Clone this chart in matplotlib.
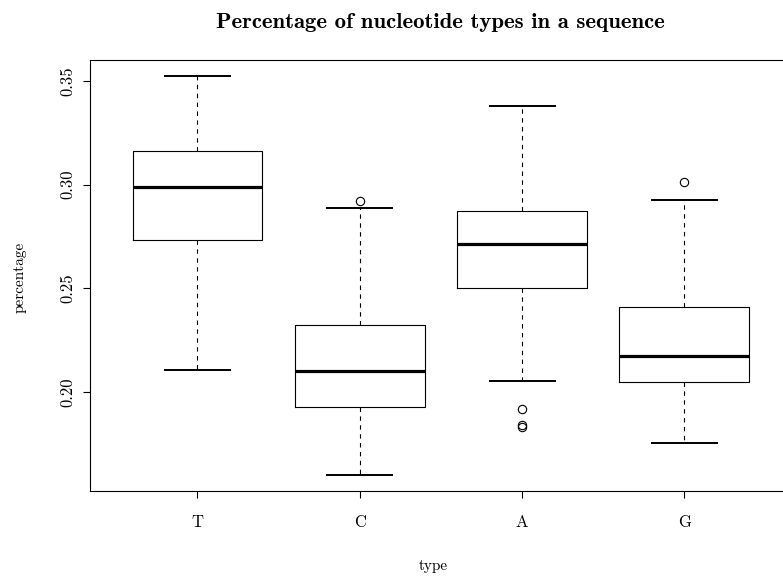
import matplotlib
matplotlib.use("Agg")
import matplotlib.pyplot as plt

# Nucleotide types and box statistics
types = ["T", "C", "A", "G"]
whisker_low = [0.2106, 0.1600, 0.2053, 0.1756]
q1 = [0.2731, 0.1928, 0.2501, 0.2051]
medians = [0.2987, 0.2104, 0.2713, 0.2173]
q3 = [0.3162, 0.2325, 0.2874, 0.2412]
whisker_high = [0.3523, 0.2889, 0.3378, 0.2928]
outliers = [[], [0.2922], [0.1918, 0.1842, 0.1835], [0.3011]]

yticks = [0.20, 0.25, 0.30, 0.35]

plt.rcParams['lines.scale_dashes'] = False
plt.rcParams['axes.unicode_minus'] = False

W, H = 783, 580
fig = plt.figure(figsize=(W / 100, H / 100), dpi=100)

# axes box in pixels (right edge runs past the image like the original)
left, right, top, bottom = 90.3, 791.5, 60.0, 491.3
ax = fig.add_axes([left / W, 1 - bottom / H, (right - left) / W, (bottom - top) / H])

stats = []
for i in range(len(types)):
    stats.append(dict(whislo=whisker_low[i], q1=q1[i], med=medians[i], q3=q3[i],
                      whishi=whisker_high[i], fliers=outliers[i], label=types[i]))

ax.bxp(stats, positions=range(1, len(types) + 1), widths=0.8,
       boxprops=dict(color="black", linewidth=0.8),
       medianprops=dict(color="black", linewidth=2.3, solid_capstyle="butt"),
       whiskerprops=dict(color="black", linewidth=0.8, linestyle=(0, (3.2, 3.2))),
       capprops=dict(color="black", linewidth=1.4),
       capwidths=0.4,
       flierprops=dict(marker="o", markerfacecolor="none", markeredgecolor="black",
                       markersize=6, markeredgewidth=0.8))

# R style limits: 4% padding
lo = min(whisker_low)
hi = max(whisker_high)
r = hi - lo
ax.set_ylim(lo - 0.04 * r, hi + 0.04 * r)
ax.set_xlim(0.5 - 0.16, len(types) + 0.5 + 0.16)

ax.set_yticks(yticks)
ax.set_yticklabels(["%.2f" % v for v in yticks], rotation=90, va="center",
                   fontfamily="cmr10", fontsize=12)
ax.set_xticks(range(1, len(types) + 1))
ax.set_xticklabels(types, fontfamily="cmr10", fontsize=12)
ax.tick_params(axis="y", length=5, width=0.8, pad=6)
ax.tick_params(axis="x", length=5, width=0.8, pad=12)

for s in ax.spines.values():
    s.set_linewidth(0.8)

fig.text(440 / W, 1 - 23 / H, "Percentage of nucleotide types in a sequence",
         ha="center", va="center", fontfamily="cmb10", fontsize=16.4)
fig.text(433 / W, 1 - 566 / H, "type", ha="center", va="center",
         fontfamily="cmr10", fontsize=11)
fig.text(20 / W, 1 - 277 / H, "percentage", ha="center", va="center", rotation=90,
         fontfamily="cmr10", fontsize=11)

fig.savefig("out.png", dpi=100)
